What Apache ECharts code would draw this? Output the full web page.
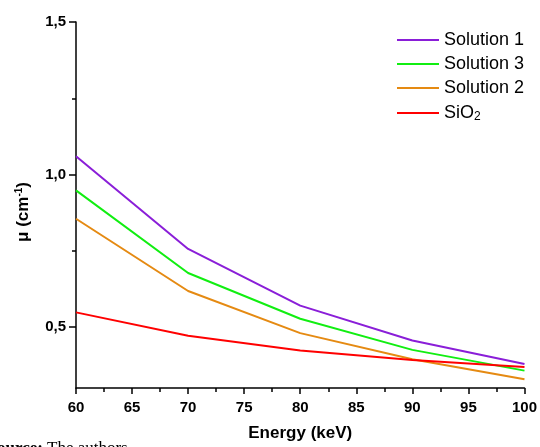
<!DOCTYPE html>
<html>
<head>
<meta charset="utf-8">
<script src="https://cdn.jsdelivr.net/npm/echarts@6/dist/echarts.min.js"></script>
<style>
html, body { margin: 0; padding: 0; background: #fff; }
#chart { width: 540px; height: 447px; }
</style>
</head>
<body>
<div id="chart"></div>
<script>
var energy = [60, 70, 80, 90, 100];
var solution1 = [1.06, 0.756, 0.570, 0.456, 0.379];
var solution3 = [0.948, 0.677, 0.527, 0.425, 0.357];
var solution2 = [0.855, 0.618, 0.480, 0.394, 0.329];
var sio2 = [0.548, 0.471, 0.423, 0.392, 0.369];
var yMajor = [0.5, 1.0, 1.5];
var yMinor = [0.75, 1.25];

function pairs(vals) {
    return energy.map(function (e, i) { return [e, vals[i]]; });
}

var font = '"Liberation Sans", Arial, sans-serif';
var chart = echarts.init(document.getElementById('chart'));

function line(name, vals, color) {
    return {
        name: name,
        type: 'line',
        symbol: 'none',
        data: pairs(vals),
        lineStyle: { color: color, width: 2 },
        itemStyle: { color: color },
        animation: false
    };
}

var option = {
    backgroundColor: '#fff',
    animation: false,
    grid: { left: 76, right: 15, top: 22, bottom: 59 },
    legend: {
        orient: 'vertical',
        left: 391,
        top: 26,
        itemWidth: 42,
        itemHeight: 14,
        itemGap: 6,
        itemStyle: { opacity: 0 },
        textStyle: {
            fontFamily: font, fontSize: 18, lineHeight: 18, color: '#000',
            rich: {
                a: { fontFamily: font, fontSize: 18, lineHeight: 18, color: '#000' },
                sub: { fontFamily: font, fontSize: 12, lineHeight: 10, color: '#000', padding: [8, 0, 0, 0] }
            }
        },
        formatter: function (n) {
            return n === 'SiO2' ? '{a|SiO}{sub|2}' : n;
        },
        data: ['Solution 1', 'Solution 3', 'Solution 2', 'SiO2']
    },
    xAxis: {
        type: 'value',
        min: 60,
        max: 100,
        interval: 5,
        name: 'Energy (keV)',
        nameLocation: 'middle',
        nameGap: 37,
        nameTextStyle: { fontFamily: font, fontSize: 17, fontWeight: 'bold', color: '#000' },
        axisLine: { lineStyle: { color: '#000', width: 1.5 } },
        axisTick: { inside: false, length: 6, lineStyle: { color: '#000', width: 1.5 } },
        minorTick: { show: true, splitNumber: 2, length: 4, lineStyle: { color: '#000', width: 1.5 } },
        axisLabel: { fontFamily: font, fontSize: 15, fontWeight: 'bold', color: '#000', margin: 12 },
        splitLine: { show: false }
    },
    yAxis: [{
        type: 'value',
        min: 0.3,
        max: 1.5,
        name: '{a|\u03bc (cm}{s|-1}{a|)}',
        nameLocation: 'middle',
        nameRotate: 90,
        nameGap: 44,
        nameTextStyle: {
            padding: [0, 14, 0, 0],
            rich: {
                a: { fontFamily: font, fontSize: 17, fontWeight: 'bold', color: '#000' },
                s: { fontFamily: font, fontSize: 10, fontWeight: 'bold', color: '#000', padding: [0, 0, 8, 0] }
            }
        },
        axisLine: { show: true, lineStyle: { color: '#000', width: 1.5 } },
        axisTick: { show: true, customValues: yMajor, length: 7, lineStyle: { color: '#000', width: 1.5 } },
        axisLabel: {
            customValues: yMajor,
            fontFamily: font, fontSize: 15, fontWeight: 'bold', color: '#000', margin: 10,
            formatter: function (v) { return v.toFixed(1).replace('.', ','); }
        },
        splitLine: { show: false }
    }, {
        type: 'value',
        position: 'left',
        min: 0.3,
        max: 1.5,
        axisLine: { show: false },
        axisTick: { show: true, customValues: yMinor, length: 4, lineStyle: { color: '#000', width: 1.5 } },
        axisLabel: { show: false },
        splitLine: { show: false }
    }],
    graphic: [{
        type: 'text',
        x: 43,
        y: 440,
        style: {
            text: 'Source:',
            font: 'bold 17px "Liberation Serif", serif',
            fill: '#000',
            align: 'right',
            verticalAlign: 'top'
        }
    }, {
        type: 'text',
        x: 47,
        y: 440,
        style: {
            text: 'The authors',
            font: '17px "Liberation Serif", serif',
            fill: '#000',
            align: 'left',
            verticalAlign: 'top'
        }
    }],
    series: [
        line('Solution 1', solution1, '#8a1ed8'),
        line('Solution 3', solution3, '#11ee11'),
        line('Solution 2', solution2, '#e58a12'),
        line('SiO2', sio2, '#ff0000')
    ]
};

chart.setOption(option);
</script>
</body>
</html>
